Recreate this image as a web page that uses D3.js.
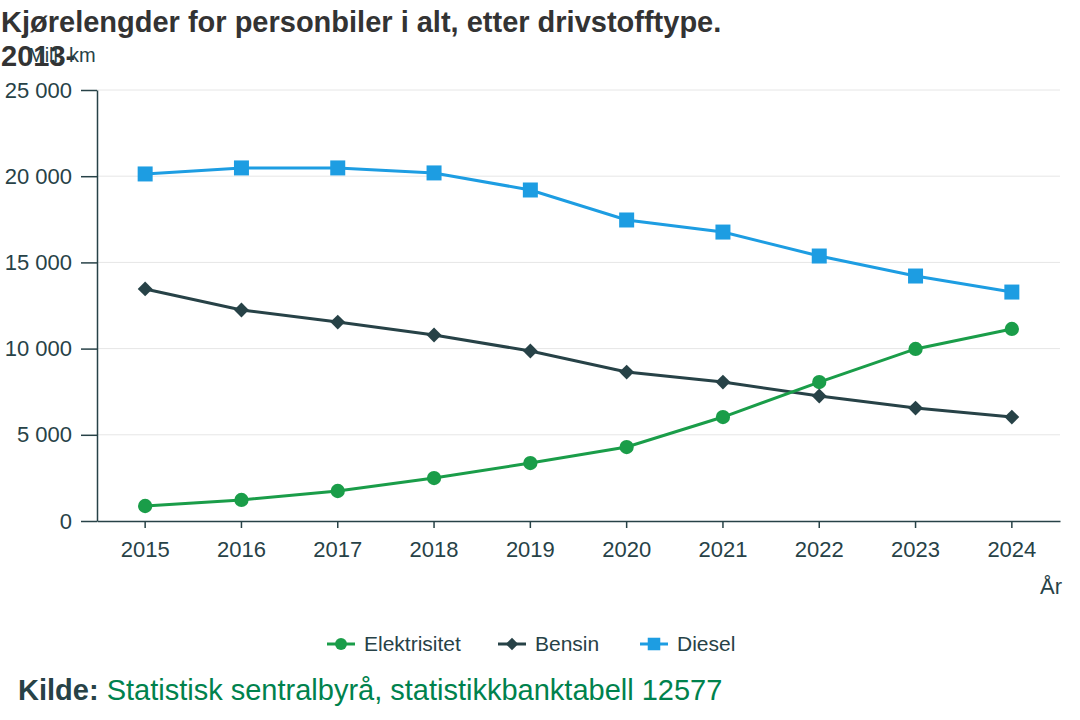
<!DOCTYPE html>
<html>
<head>
<meta charset="utf-8">
<script src="https://cdn.jsdelivr.net/npm/d3@7"></script>
<style>
  body { margin: 0; background: #fff; }
  svg { font-family: "Liberation Sans", Arial, sans-serif; }
</style>
</head>
<body>
<svg width="1080" height="720"></svg>
<script>
var years = ['2015', '2016', '2017', '2018', '2019', '2020', '2021', '2022', '2023', '2024'];
var elektrisitet = [870, 1220, 1740, 2490, 3360, 4290, 6030, 8060, 9980, 11140];
var bensin = [13460, 12240, 11540, 10790, 9860, 8640, 8060, 7250, 6550, 6030];
var diesel = [20130, 20480, 20480, 20190, 19200, 17460, 16760, 15370, 14210, 13280];
var yTicks = [0, 5000, 10000, 15000, 20000, 25000];

var svg = d3.select('svg'),
    plotLeft = 97, plotRight = 1060, plotTop = 90, plotBottom = 521,
    dark = '#274247',
    font = '"Liberation Sans", Arial, sans-serif';

var x = d3.scaleBand().domain(years).range([plotLeft, plotRight]);
var y = d3.scaleLinear().domain([0, 25000]).range([plotBottom, plotTop]);
var fmt = function(d) { return d3.format(',')(d).replace(/,/g, ' '); };

// gridlines
svg.append('g').selectAll('line')
  .data(yTicks.slice(1))
  .enter().append('line')
  .attr('x1', plotLeft).attr('x2', plotRight)
  .attr('y1', function(d) { return y(d); })
  .attr('y2', function(d) { return y(d); })
  .attr('stroke', '#e6e6e6')
  .attr('stroke-width', 1);

// y axis
var yAxis = svg.append('g')
  .attr('transform', 'translate(' + plotLeft + ',0)')
  .call(d3.axisLeft(y).tickValues(yTicks).tickFormat(fmt).tickSize(16).tickSizeOuter(0));
yAxis.select('.domain').attr('stroke', dark).attr('stroke-width', 1.5);
yAxis.selectAll('.tick line').attr('stroke', dark).attr('stroke-width', 1.5);
yAxis.selectAll('text').attr('fill', dark).attr('font-size', 22).attr('x', -25)
  .attr('font-family', font);

// x axis
var xAxis = svg.append('g')
  .attr('transform', 'translate(0,' + plotBottom + ')')
  .call(d3.axisBottom(x).tickSize(7).tickSizeOuter(0).tickPadding(13));
xAxis.select('.domain').attr('stroke', dark).attr('stroke-width', 1.5);
xAxis.selectAll('.tick line').attr('stroke', dark).attr('stroke-width', 1.5);
xAxis.selectAll('text').attr('fill', dark).attr('font-size', 22)
  .attr('font-family', font);

var series = [
  {name: 'Elektrisitet', values: elektrisitet, color: '#1a9d49', symbol: d3.symbolCircle, size: 160},
  {name: 'Bensin', values: bensin, color: dark, symbol: d3.symbolDiamond2, size: 140},
  {name: 'Diesel', values: diesel, color: '#1d9de2', symbol: d3.symbolSquare, size: 225}
];

var line = d3.line()
  .x(function(d, i) { return x(years[i]) + x.bandwidth() / 2; })
  .y(function(d) { return y(d); });

series.slice().reverse().forEach(function(s) {
  svg.append('path')
    .attr('d', line(s.values))
    .attr('fill', 'none')
    .attr('stroke', s.color)
    .attr('stroke-width', 3);
  svg.append('g').selectAll('path')
    .data(s.values)
    .enter().append('path')
    .attr('d', d3.symbol().type(s.symbol).size(s.size))
    .attr('transform', function(d, i) {
      return 'translate(' + (x(years[i]) + x.bandwidth() / 2) + ',' + y(d) + ')';
    })
    .attr('fill', s.color);
});

// title
svg.append('text')
  .attr('x', 1).attr('y', 32)
  .attr('font-size', 29).attr('font-weight', 'bold').attr('fill', '#333')
  .text('Kjørelengder for personbiler i alt, etter drivstofftype.');
svg.append('text')
  .attr('x', 1).attr('y', 66)
  .attr('font-size', 29).attr('font-weight', 'bold').attr('fill', '#333')
  .text('2013-');
svg.append('text')
  .attr('x', 28).attr('y', 62)
  .attr('font-size', 20).attr('fill', dark)
  .text('Mill. km');

svg.append('text')
  .attr('x', 1062).attr('y', 594)
  .attr('text-anchor', 'end')
  .attr('font-size', 22).attr('fill', dark)
  .text('År');

// legend
var legendX = [327, 498, 640];
var legend = svg.append('g').selectAll('g')
  .data(series)
  .enter().append('g')
  .attr('transform', function(d, i) { return 'translate(' + legendX[i] + ',644)'; });
legend.append('line')
  .attr('x1', 0).attr('x2', 28)
  .attr('stroke', function(d) { return d.color; })
  .attr('stroke-width', 3);
legend.append('path')
  .attr('d', function(d) { return d3.symbol().type(d.symbol).size(d.size * 0.7)(); })
  .attr('transform', 'translate(14,0)')
  .attr('fill', function(d) { return d.color; });
legend.append('text')
  .attr('x', 37).attr('y', 7)
  .attr('font-size', 21).attr('fill', dark)
  .text(function(d) { return d.name; });

// source
var src = svg.append('text')
  .attr('x', 18).attr('y', 700)
  .attr('font-size', 29);
src.append('tspan').attr('font-weight', 'bold').attr('fill', dark).text('Kilde: ');
src.append('tspan').attr('fill', '#00824d').text('Statistisk sentralbyrå, statistikkbanktabell 12577');
</script>
</body>
</html>
